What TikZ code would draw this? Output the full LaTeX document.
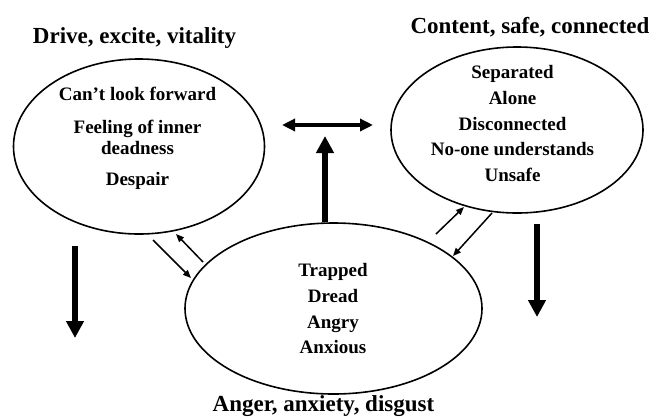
\documentclass[tikz,border=0pt]{standalone}
\usepackage{fontspec}
\setmainfont{Liberation Serif}
\usetikzlibrary{shapes.geometric,arrows.meta}
\begin{document}
\begin{tikzpicture}[x=1pt,y=-1pt,
  oval/.style={draw, ellipse, line width=1.6pt, inner sep=0pt},
  title/.style={font=\fontsize{23}{26}\selectfont\bfseries, anchor=base, inner sep=0pt},
  item/.style={font=\fontsize{19}{22}\selectfont\bfseries, anchor=base, inner sep=0pt},
  bigarrow/.style={line width=6pt, -{Triangle[width=17pt,length=17pt]}},
  midarrow/.style={line width=3.5pt, {Triangle[width=12pt,length=13pt]}-{Triangle[width=12pt,length=13pt]}},
  smallarrow/.style={line width=1.5pt, -{Triangle[width=6.5pt,length=8pt]}}
]
\useasboundingbox (0,0) rectangle (652,416);
% ellipses
\node[oval, minimum width=251pt, minimum height=175pt] (L) at (139,146.5) {};
\node[oval, minimum width=252pt, minimum height=166pt] (R) at (517,130) {};
\node[oval, minimum width=297pt, minimum height=171pt] (B) at (333.5,308.5) {};
% titles
\node[title] (tL) at (134.5,43) {Drive, excite, vitality};
\node[title] (tR) at (530,33) {Content, safe, connected};
\node[title] (tB) at (323.5,411) {Anger, anxiety, disgust};
% left items
\node[item] (l1) at (137.5,100) {Can’t look forward};
\node[item] (l2) at (137.5,133) {Feeling of inner};
\node[item] (l3) at (137.5,154) {deadness};
\node[item] (l4) at (137.5,185) {Despair};
% right items
\node[item] (r1) at (512.5,78) {Separated};
\node[item] (r2) at (512.5,104) {Alone};
\node[item] (r3) at (512.5,130) {Disconnected};
\node[item] (r4) at (512.5,155) {No-one understands};
\node[item] (r5) at (512.5,181) {Unsafe};
% bottom items
\node[item] (b1) at (333,276) {Trapped};
\node[item] (b2) at (333,302) {Dread};
\node[item] (b3) at (333,328) {Angry};
\node[item] (b4) at (333,353) {Anxious};
% coordinates for connectors
\coordinate (ldS) at (75,246);
\coordinate (ldE) at (75,338);
\coordinate (rdS) at (537,224);
\coordinate (rdE) at (537,317);
\coordinate (vtip) at (325,136);
\coordinate (hl) at (282,125);
\coordinate (hr) at (373,125);
\coordinate (a1s) at (153,240);
\coordinate (a1e) at (191,278);
\coordinate (a2s) at (203,262);
\coordinate (a2e) at (176,234);
\coordinate (a3s) at (436,234);
\coordinate (a3e) at (464,207);
\coordinate (a4s) at (492,213);
\coordinate (a4e) at (453,256);
% arrows
\draw[bigarrow] (ldS) -- (ldE);
\draw[bigarrow] (rdS) -- (rdE);
\draw[bigarrow] (vtip |- B.north) -- (vtip);
\draw[midarrow] (hl) -- (hr);
\draw[smallarrow] (a1s) -- (a1e);
\draw[smallarrow] (a2s) -- (a2e);
\draw[smallarrow] (a3s) -- (a3e);
\draw[smallarrow] (a4s) -- (a4e);
\end{tikzpicture}
\end{document}
